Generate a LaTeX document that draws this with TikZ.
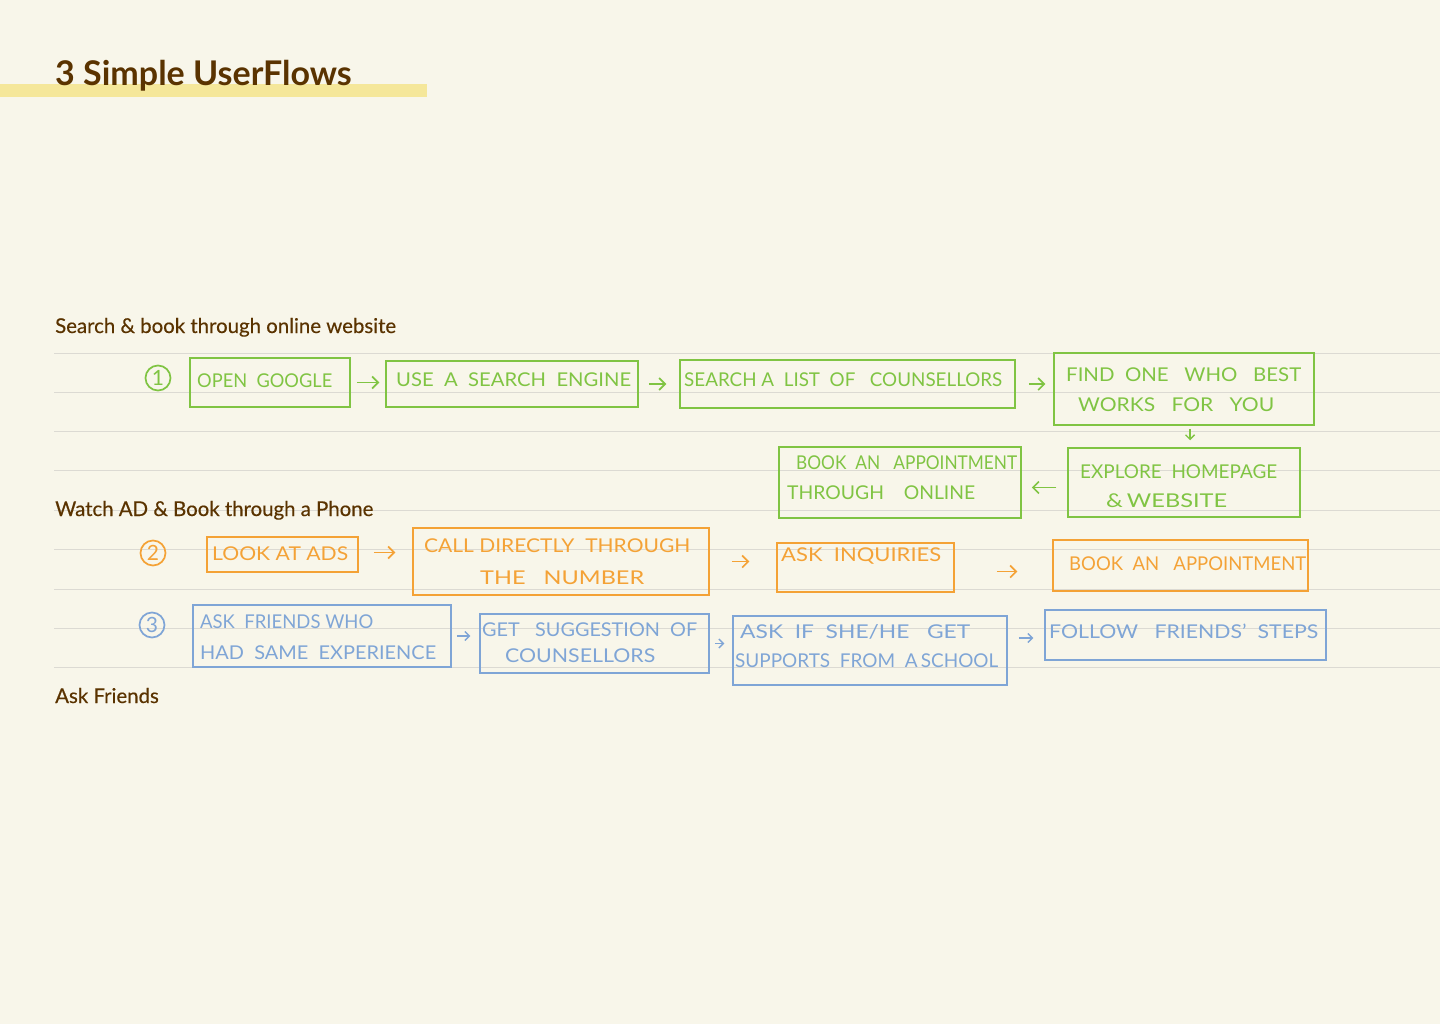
\documentclass[tikz,border=0pt]{standalone}
\usepackage{fontspec}
\usepackage{graphicx}
\setmainfont{Lato}
\newfontfamily\sectfont[FakeBold=0.35]{Lato}
\usetikzlibrary{arrows.meta,fit}
\definecolor{bg}{HTML}{F8F6EA}
\definecolor{titlec}{HTML}{5A3300}
\definecolor{hl}{HTML}{F5E79A}
\definecolor{rulec}{HTML}{DCDAD3}
\definecolor{gr}{HTML}{80C443}
\definecolor{og}{HTML}{F4A236}
\definecolor{bl}{HTML}{7FA5D6}
\newcommand\hwfit[2]{\resizebox{#1pt}{\height}{#2}}
\tikzset{
  flowbox/.style={draw=#1, line width=1.5pt, inner sep=0pt},
  hw/.style={text=#1, font=\fontsize{19}{22}\selectfont, inner sep=0pt, anchor=west},
  arr/.style={draw=#1, line width=1.6pt, -{Straight Barb[length=6pt,width=12pt]}},
  sarr/.style={draw=#1, line width=1.4pt, -{Straight Barb[length=4.5pt,width=9pt]}},
  numc/.style={draw=#1, text=#1, circle, line width=1.7pt, minimum size=25pt, inner sep=0pt, font=\fontsize{21}{21}\selectfont},
  rl/.style={draw=rulec, line width=1pt},
  sect/.style={text=titlec, font=\sectfont\fontsize{20.4}{24}\selectfont, anchor=base west, inner sep=0pt}
}
\begin{document}
\begin{tikzpicture}[x=1pt,y=-1pt]
\fill[bg] (0,0) rectangle (1440,1024);
\useasboundingbox (0,0) rectangle (1440,1024);
% title
\fill[hl] (0,84) rectangle (427,97);
\node[text=titlec, font=\fontsize{34}{40}\selectfont\bfseries, anchor=base west, inner sep=0pt] (title) at (55,86) {3 Simple UserFlows};
% rules
\foreach \yy in {353,392,431,470,510,549,589,628,667} {\draw[rl] (54,\yy) -- (1440,\yy);}
% section labels
\node[sect] (s1) at (55,333) {Search \& book through online website};
\node[sect] (s2) at (55,516) {Watch AD \& Book through a Phone};
\node[sect] (s3) at (55,703) {Ask Friends};

% ---- flow 1 (green)
\node[numc=gr] (n1) at (158,378) {1};
\node[flowbox=gr, fit={(190,358) (350,407)}] (b11) {};
\node[flowbox=gr, fit={(386,361) (638,407)}] (b12) {};
\node[flowbox=gr, fit={(680,360) (1015,408)}] (b13) {};
\node[flowbox=gr, fit={(1054,353) (1314,425)}] (b14) {};
\node[flowbox=gr, fit={(1068,448) (1300,517)}] (b15) {};
\node[flowbox=gr, fit={(779,447) (1021,518)}] (b16) {};
\node[hw=gr] (t11) at (197,381) {\hwfit{135}{OPEN\ \ GOOGLE}};
\node[hw=gr] (t12) at (396,380) {\hwfit{235}{USE\ \ A\ \ SEARCH\ \ ENGINE}};
\node[hw=gr] (t13) at (684,380) {\hwfit{318}{SEARCH A\ \ LIST\ \ OF\ \ \ COUNSELLORS}};
\node[hw=gr] (t14a) at (1066,375) {\hwfit{235}{FIND\ \ ONE\ \ \ WHO\ \ \ BEST}};
\node[hw=gr] (t14b) at (1078,405) {\hwfit{196}{WORKS\ \ \ FOR\ \ \ YOU}};
\node[hw=gr] (t15a) at (1080,472) {\hwfit{197}{EXPLORE\ \ HOMEPAGE}};
\node[hw=gr] (t15b) at (1106,501) {\hwfit{121}{\&\,WEBSITE}};
\node[hw=gr] (t16a) at (796,463) {\hwfit{221}{BOOK\ \ AN\ \ \ APPOINTMENT}};
\node[hw=gr] (t16b) at (787,493) {\hwfit{188}{THROUGH\ \ \ \ ONLINE}};
\draw[arr=gr, shorten <=6pt, shorten >=6pt] (b11.east) -- (b11.east -| b12.west);
\draw[arr=gr, shorten <=10pt, shorten >=13pt] (b12.east) -- (b12.east -| b13.west);
\draw[arr=gr, shorten <=13pt, shorten >=8pt] (b13.east) -- (b13.east -| b14.west);
\draw[sarr=gr, shorten <=3pt, shorten >=7pt] ([xshift=6pt]b14.south) -- ([xshift=6pt]b14.south |- b15.north);
\draw[arr=gr, shorten <=11pt, shorten >=10pt] ([yshift=-5pt]b15.west) -- ([yshift=-5pt]b15.west -| b16.east);

% ---- flow 2 (orange)
\node[numc=og] (n2) at (153,553) {2};
\node[flowbox=og, fit={(207,537) (358,572)}] (b21) {};
\node[flowbox=og, fit={(413,528) (709,595)}] (b22) {};
\node[flowbox=og, fit={(777,543) (954,592)}] (b23) {};
\node[flowbox=og, fit={(1053,540) (1308,591)}] (b24) {};
\node[hw=og] (t21) at (212,554) {\hwfit{136}{LOOK\ AT\ ADS}};
\node[hw=og] (t22a) at (424,546) {\hwfit{266}{CALL\ DIRECTLY\ \ THROUGH}};
\node[hw=og] (t22b) at (480,578) {\hwfit{164}{THE\ \ \ NUMBER}};
\node[hw=og] (t23) at (781,556) {\hwfit{160}{ASK\ \ INQUIRIES}};
\node[hw=og] (t24) at (1069,564) {\hwfit{237}{BOOK\ \ AN\ \ \ APPOINTMENT}};
\draw[arr=og, shorten <=15pt, shorten >=17pt] ([yshift=2pt]b21.east) -- ([yshift=2pt]b21.east -| b22.west);
\draw[arr=og, shorten <=22pt, shorten >=27pt] (b22.east) -- (b22.east -| b23.west);
\draw[arr=og, shorten <=42pt, shorten >=35pt] ([yshift=-4pt]b23.east) -- ([yshift=-4pt]b23.east -| b24.west);

% ---- flow 3 (blue)
\node[numc=bl] (n3) at (152,625) {3};
\node[flowbox=bl, fit={(193,605) (451,667)}] (b31) {};
\node[flowbox=bl, fit={(480,614) (709,673)}] (b32) {};
\node[flowbox=bl, fit={(733,616) (1007,685)}] (b33) {};
\node[flowbox=bl, fit={(1045,610) (1326,660)}] (b34) {};
\node[hw=bl] (t31a) at (200,622) {\hwfit{173}{ASK\ \ FRIENDS\ WHO}};
\node[hw=bl] (t31b) at (200,653) {\hwfit{236}{HAD\ \ SAME\ \ EXPERIENCE}};
\node[hw=bl] (t32a) at (482,630) {\hwfit{215}{GET\ \ \ SUGGESTION\ \ OF}};
\node[hw=bl] (t32b) at (505,656) {\hwfit{150}{COUNSELLORS}};
\node[hw=bl] (t33a) at (740,632) {\hwfit{230}{ASK\ \ IF\ \ SHE/HE\ \ \ GET}};
\node[hw=bl] (t33b) at (735,661) {\hwfit{263}{SUPPORTS\ \ FROM\ \ A\,SCHOOL}};
\node[hw=bl] (t34) at (1049,631) {\hwfit{269}{FOLLOW\ \ \ FRIENDS'\ \ STEPS}};
\draw[sarr=bl, shorten <=5pt, shorten >=9pt] (b31.east) -- (b31.east -| b32.west);
\draw[sarr=bl, shorten <=5pt, shorten >=8pt] (b32.east) -- (b32.east -| b33.west);
\draw[sarr=bl, shorten <=11pt, shorten >=11pt] ([yshift=-3pt]b34.west -| b33.east) -- ([yshift=-3pt]b34.west);
\end{tikzpicture}
\end{document}
